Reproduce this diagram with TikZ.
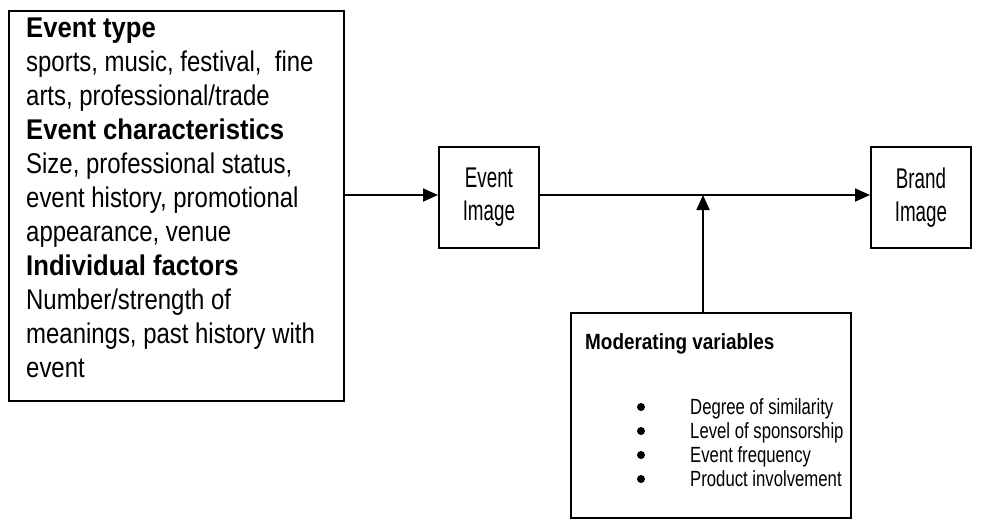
\documentclass[tikz,border=0pt]{standalone}
\usepackage{fontspec}
\setmainfont{Liberation Sans}[FakeStretch=0.84, BoldFeatures={FakeStretch=0.9}]
\newfontfamily\imgfont{Liberation Sans}[FakeStretch=0.66]
\newfontfamily\modfont{Liberation Sans}[FakeStretch=0.76, BoldFeatures={FakeStretch=0.86}]
\usetikzlibrary{arrows.meta}
\tikzset{
  box/.style={draw=black, line width=1.8pt, fill=white, inner sep=0pt, anchor=north west},
  bigtext/.style={font=\fontsize{28.5}{34}\selectfont},
  imgtext/.style={font=\imgfont\fontsize{28.5}{33}\selectfont},
  smalltext/.style={font=\modfont\fontsize{22}{24}\selectfont},
  bulletdot/.style={circle, fill=black, inner sep=0pt, minimum size=8pt},
  conn/.style={line width=1.8pt, -{Triangle[length=15pt,width=13pt]}},
}
\begin{document}
\begin{tikzpicture}[x=1pt,y=-1pt]
\useasboundingbox (0,0) rectangle (1003,520);
% left box
\node[box, minimum width=335pt, minimum height=390pt] (left) at (8,10) {};
\node[bigtext, anchor=north west, inner sep=0pt, align=left] (lefttext) at (26,18) {%
\textbf{Event type}\\
sports, music, festival,\ \ fine\\
arts, professional/trade\\
\textbf{Event characteristics}\\
Size, professional status,\\
event history, promotional\\
appearance, venue\\
\textbf{Individual factors}\\
Number/strength of\\
meanings, past history with\\
event};
% event image
\node[box, minimum width=100pt, minimum height=101pt] (ev) at (438,146) {};
\node[imgtext, align=center] (evtext) at (ev.center) {Event\\Image};
% brand image
\node[box, minimum width=100pt, minimum height=101pt] (br) at (870,146) {};
\node[imgtext, align=center] (brtext) at (br.center) {Brand\\Image};
% moderating box
\node[box, minimum width=280pt, minimum height=205pt] (mod) at (570,312) {};
\node[smalltext, anchor=base west, inner sep=0pt] (modtitle) at (585,349) {\textbf{Moderating variables}};
\foreach \i/\t in {0/Degree of similarity,1/Level of sponsorship,2/Event frequency,3/Product involvement}{
  \node[bulletdot] (b\i) at (641,{407+24*\i}) {};
  \node[smalltext, anchor=base west, inner sep=0pt] (t\i) at (690,{414+24*\i}) {\t};
}
% connectors
\coordinate (leftout) at (343,195);
\coordinate (mid) at (703,195);
\draw[conn] (leftout) -- (ev.west |- leftout);
\draw[conn] (ev.east |- mid) -- (br.west |- mid);
\draw[conn] (mod.north -| mid) -- (mid);
\end{tikzpicture}
\end{document}
